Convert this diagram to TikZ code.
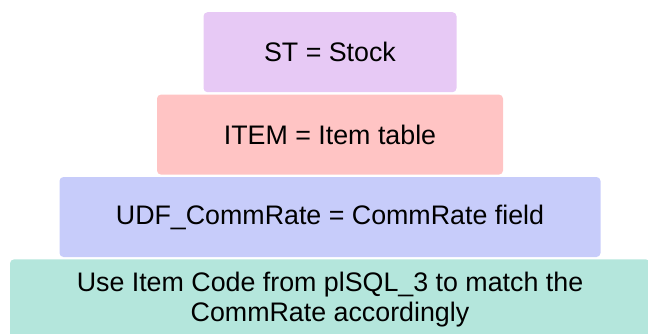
\documentclass[tikz,border=0pt]{standalone}
\usepackage{fontspec}
\setmainfont{Liberation Sans}
\usetikzlibrary{positioning}
\definecolor{stcolor}{RGB}{231,201,245}
\definecolor{itemcolor}{RGB}{255,196,196}
\definecolor{udfcolor}{RGB}{199,204,250}
\definecolor{usecolor}{RGB}{180,230,220}

\begin{document}
\begin{tikzpicture}[
    x=1pt, y=1pt,
    node distance=2pt,
    layer/.style={rectangle, rounded corners=4pt, minimum height=80pt, align=center, font=\fontsize{26.8}{30}\selectfont, inner sep=0pt},
]
\clip (0,0) rectangle (648,-334);
\useasboundingbox (0,0) rectangle (648,-334);

% pyramid of layers, top to bottom
\node[layer, fill=stcolor, minimum width=253pt, anchor=north] (st) at (330,-12) {ST = Stock};
\node[layer, fill=itemcolor, minimum width=346pt, below=of st] (item) {ITEM = Item table};
\node[layer, fill=udfcolor, minimum width=541pt, below=of item] (udf) {UDF\_CommRate = CommRate field};
\node[layer, fill=usecolor, minimum width=640pt, below=of udf] (use) {Use Item Code from plSQL\_3 to match the\\CommRate accordingly};

\end{tikzpicture}
\end{document}
